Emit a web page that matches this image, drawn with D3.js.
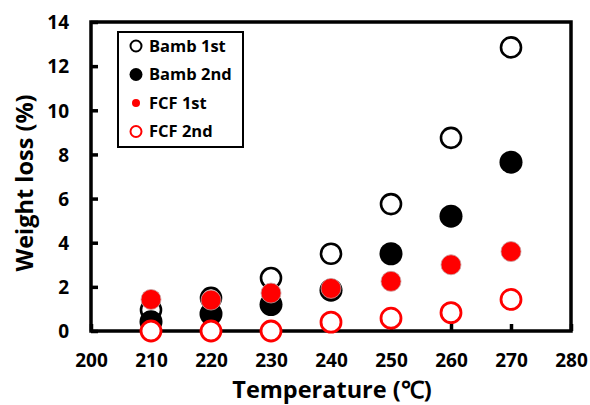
<!DOCTYPE html>
<html><head><meta charset="utf-8">
<script src="https://cdn.jsdelivr.net/npm/d3@7/dist/d3.min.js"></script>
<style>body{margin:0;background:#fff}svg{display:block}text{font-family:"Open Sans",sans-serif;font-weight:700;fill:#000}</style>
</head><body><svg id="c" width="590" height="405"></svg>
<script>
const temps = [210, 220, 230, 240, 250, 260, 270];
const bamb1 = [0.95, 1.5, 2.4, 3.5, 5.75, 8.75, 12.85];
const bamb2 = [0.42, 0.77, 1.2, 1.85, 3.5, 5.2, 7.65];
const fcf1 = [1.43, 1.4, 1.72, 1.93, 2.25, 3.0, 3.6];
const fcf2 = [0.0, 0.0, 0.0, 0.4, 0.58, 0.83, 1.43];
const xTicks = [200, 210, 220, 230, 240, 250, 260, 270, 280];
const yTicks = [0, 2, 4, 6, 8, 10, 12, 14];
const seriesNames = ["Bamb 1st", "Bamb 2nd", "FCF 1st", "FCF 2nd"];

const series = [
  {name: seriesNames[0], vals: bamb1, fill: "#fff", stroke: "#000", sw: 2.6, r: 10, lr: 5.5},
  {name: seriesNames[1], vals: bamb2, fill: "#000", stroke: "#000", sw: 0, r: 11.5, lr: 6.5},
  {name: seriesNames[2], vals: fcf1, fill: "#f00", stroke: "#c8a0a0", sw: 0.8, r: 10, lr: 4},
  {name: seriesNames[3], vals: fcf2, fill: "#fff", stroke: "#f00", sw: 2.8, r: 10, lr: 5.5}
];

const svg = d3.select("#c");
const L = 91, R = 571, T = 22, B = 331;
const x = d3.scaleLinear().domain([200, 280]).range([L, R]);
const y = d3.scaleLinear().domain([0, 14]).range([B, T]);

svg.append("rect").attr("x", L).attr("y", T).attr("width", R - L).attr("height", B - T)
  .attr("fill", "none").attr("stroke", "#000").attr("stroke-width", 3.5);

const xa = svg.append("g").attr("transform", `translate(0,${B})`)
  .call(d3.axisBottom(x).tickValues(xTicks).tickSize(-7).tickPadding(0).tickFormat(d3.format("d")));
xa.select(".domain").remove();
xa.selectAll("line").attr("stroke", "#000").attr("stroke-width", 3.5);
xa.selectAll("text").attr("y", 36).attr("dy", 0).style("font-size", "19px");

const ya = svg.append("g").attr("transform", `translate(${L},0)`)
  .call(d3.axisLeft(y).tickValues(yTicks).tickSize(-7).tickPadding(0));
ya.select(".domain").remove();
ya.selectAll("line").attr("stroke", "#000").attr("stroke-width", 3.5);
ya.selectAll("text").attr("x", -22).attr("dy", "0.36em").style("font-size", "19px");

series.forEach(s => {
  svg.append("g").selectAll("circle").data(temps.map((t, i) => [t, s.vals[i]])).join("circle")
    .attr("cx", d => x(d[0])).attr("cy", d => y(d[1])).attr("r", s.r)
    .attr("fill", s.fill).attr("stroke", s.sw ? s.stroke : "none").attr("stroke-width", s.sw);
});

const lg = svg.append("g").attr("transform", "translate(118,32)");
lg.append("rect").attr("width", 125).attr("height", 115).attr("fill", "#fff")
  .attr("stroke", "#000").attr("stroke-width", 2);
series.forEach((s, i) => {
  const yy = 14 + i * 28.5;
  lg.append("circle").attr("cx", 18).attr("cy", yy).attr("r", s.lr)
    .attr("fill", s.fill).attr("stroke", s.sw ? (s.name === "FCF 1st" ? "none" : s.stroke) : "none")
    .attr("stroke-width", s.sw ? 2 : 0);
  lg.append("text").attr("x", 31).attr("y", yy).attr("dy", "0.36em").style("font-size", "16.5px").text(s.name);
});

svg.append("text").attr("x", 332).attr("y", 398).attr("text-anchor", "middle")
  .style("font-size", "23.5px").text("Temperature (℃)");
svg.append("text").attr("transform", "translate(33,183) rotate(-90)").attr("text-anchor", "middle")
  .style("font-size", "23.5px").text("Weight loss (%)");
</script></body></html>
